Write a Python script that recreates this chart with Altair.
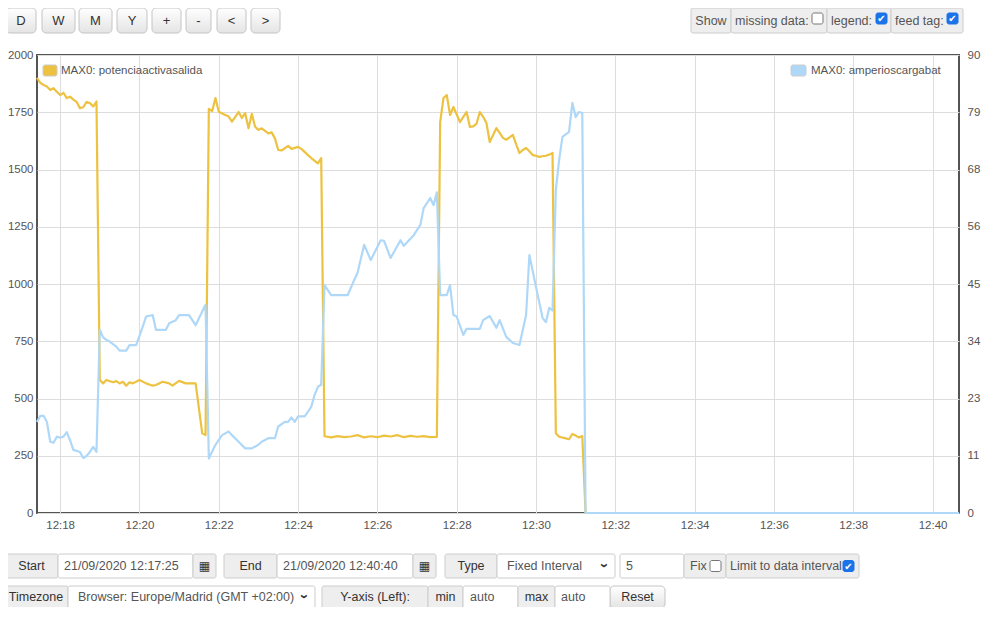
import altair as alt
import pandas as pd

# ------------------------------------------------------------------ data
power_times = [
    "12:17:25", "12:17:30", "12:17:35", "12:17:40", "12:17:45", "12:17:50", "12:17:55",
    "12:18:00", "12:18:05", "12:18:10", "12:18:15", "12:18:20", "12:18:25", "12:18:30",
    "12:18:35", "12:18:40", "12:18:45", "12:18:50", "12:18:55",
    "12:19:00", "12:19:05", "12:19:10", "12:19:20", "12:19:25", "12:19:30", "12:19:35",
    "12:19:40", "12:19:45", "12:19:50", "12:20:00", "12:20:10", "12:20:20", "12:20:25",
    "12:20:35", "12:20:45", "12:20:50", "12:21:00", "12:21:10", "12:21:25", "12:21:35",
    "12:21:40",
    "12:21:45", "12:21:50", "12:21:55", "12:22:00", "12:22:10", "12:22:15", "12:22:20",
    "12:22:25", "12:22:30", "12:22:35", "12:22:40", "12:22:45", "12:22:50", "12:22:55",
    "12:23:00", "12:23:05", "12:23:15", "12:23:20", "12:23:25", "12:23:30", "12:23:35",
    "12:23:45", "12:23:50", "12:24:00", "12:24:05", "12:24:15", "12:24:20", "12:24:30",
    "12:24:35",
    "12:24:40", "12:24:50", "12:25:00", "12:25:10", "12:25:20", "12:25:30", "12:25:40",
    "12:25:50", "12:26:00", "12:26:10", "12:26:20", "12:26:30", "12:26:40", "12:26:50",
    "12:27:00", "12:27:10", "12:27:20", "12:27:30",
    "12:27:35", "12:27:40", "12:27:45", "12:27:50", "12:27:55", "12:28:00", "12:28:05",
    "12:28:10", "12:28:15", "12:28:20", "12:28:25", "12:28:30", "12:28:35", "12:28:40",
    "12:28:45", "12:28:50", "12:28:55", "12:29:00", "12:29:05", "12:29:10", "12:29:15",
    "12:29:20", "12:29:25", "12:29:30", "12:29:35", "12:29:40", "12:29:45", "12:29:50",
    "12:29:55", "12:30:00", "12:30:05", "12:30:10", "12:30:15", "12:30:20", "12:30:25",
    "12:30:30", "12:30:35", "12:30:45", "12:30:50", "12:30:55", "12:31:00", "12:31:05",
    "12:31:10", "12:31:15", "12:40:40",
]
power_values = [
    1900, 1878, 1869, 1862, 1847, 1855, 1840,
    1825, 1835, 1812, 1818, 1805, 1795, 1768,
    1772, 1795, 1790, 1775, 1797,
    581, 566, 581, 571, 576, 566, 573,
    556, 571, 566, 581, 566, 556, 559,
    573, 566, 556, 577, 566, 566, 348,
    341,
    1765, 1755, 1812, 1752, 1738, 1731, 1709,
    1730, 1751, 1725, 1746, 1680, 1743, 1687,
    1673, 1680, 1658, 1662, 1636, 1585, 1583,
    1603, 1590, 1599, 1590, 1563, 1550, 1527,
    1550,
    335, 330, 336, 331, 334, 340, 330,
    335, 331, 338, 334, 340, 331, 337,
    333, 336, 331, 332,
    1707, 1812, 1825, 1738, 1773, 1740, 1707,
    1730, 1751, 1686, 1688, 1700, 1751, 1730,
    1703, 1620, 1650, 1681, 1660, 1638, 1630,
    1640, 1651, 1610, 1572, 1585, 1594, 1580,
    1563, 1560, 1555, 1558, 1560, 1565, 1572,
    348, 333, 326, 322, 345, 338, 330,
    336, 0, 0,
]

amps_times = [
    "12:17:25", "12:17:30", "12:17:35", "12:17:40", "12:17:45", "12:17:50", "12:17:55",
    "12:18:00", "12:18:05", "12:18:10", "12:18:15", "12:18:20", "12:18:25", "12:18:30",
    "12:18:35", "12:18:40", "12:18:45", "12:18:50", "12:18:55",
    "12:19:00", "12:19:05", "12:19:10", "12:19:15", "12:19:25", "12:19:30", "12:19:40",
    "12:19:45", "12:19:55", "12:20:05", "12:20:10", "12:20:20", "12:20:25", "12:20:40",
    "12:20:45", "12:20:55", "12:21:00", "12:21:15", "12:21:25", "12:21:35", "12:21:40",
    "12:21:45", "12:21:55", "12:22:05", "12:22:15", "12:22:20", "12:22:30", "12:22:40",
    "12:22:50", "12:23:00", "12:23:05", "12:23:15", "12:23:25", "12:23:30", "12:23:40",
    "12:23:45", "12:23:50", "12:23:55", "12:24:00", "12:24:10", "12:24:15", "12:24:20",
    "12:24:25", "12:24:30", "12:24:35",
    "12:24:40", "12:24:50", "12:25:15", "12:25:25", "12:25:30", "12:25:40", "12:25:50",
    "12:26:05", "12:26:10", "12:26:20", "12:26:35", "12:26:40", "12:26:55", "12:27:05",
    "12:27:10", "12:27:20", "12:27:25", "12:27:30",
    "12:27:35", "12:27:45", "12:27:50", "12:27:55", "12:28:00", "12:28:10", "12:28:15",
    "12:28:35", "12:28:40", "12:28:50", "12:29:00", "12:29:05", "12:29:15", "12:29:25",
    "12:29:35", "12:29:45", "12:29:50", "12:30:00", "12:30:10", "12:30:15", "12:30:20",
    "12:30:25",
    "12:30:30", "12:30:35", "12:30:40", "12:30:50", "12:30:55", "12:31:00", "12:31:05",
    "12:31:10", "12:31:15", "12:40:40",
]
amps_values = [
    17.9, 19.1, 19.1, 17.9, 14.0, 13.8, 15.0,
    14.8, 15.0, 15.9, 14.3, 12.4, 12.2, 12.0,
    10.8, 11.2, 12.0, 13.0, 12.0,
    36.0, 34.5, 34.0, 33.7, 32.7, 31.9, 31.9,
    33.0, 33.0, 36.6, 38.6, 38.9, 36.0, 36.0,
    37.3, 37.9, 38.9, 38.9, 36.9, 39.6, 40.9,
    10.7, 13.4, 15.3, 16.0, 15.3, 14.0, 12.7,
    12.7, 13.4, 14.0, 14.7, 14.7, 17.0, 17.9,
    17.9, 18.8, 17.9, 19.0, 19.0, 19.9, 20.9,
    23.2, 24.8, 25.2,
    44.8, 42.8, 42.8, 45.8, 47.2, 52.7, 49.7,
    53.6, 53.5, 50.1, 53.6, 52.5, 54.6, 56.6,
    59.9, 61.9, 60.5, 63.0,
    42.8, 42.8, 44.8, 38.9, 38.6, 35.0, 36.2,
    36.2, 37.9, 38.7, 36.4, 37.9, 34.6, 33.4,
    33.0, 38.9, 50.7, 44.4, 38.3, 37.5, 40.3,
    39.8,
    63.5, 69.4, 73.9, 74.9, 80.6, 77.8, 78.8,
    78.6, 0, 0,
]

series_labels = ["MAX0: potenciaactivasalida", "MAX0: amperioscargabat"]
series_colors = ["#edc240", "#afd8f8"]

x_start, x_end = "12:17:25", "12:40:40"
x_tick_minutes = [18, 20, 22, 24, 26, 28, 30, 32, 34, 36, 38, 40]
left_ticks = [0, 250, 500, 750, 1000, 1250, 1500, 1750, 2000]
right_ticks = [0, 11.25, 22.5, 33.75, 45, 56.25, 67.5, 78.75, 90]

top_buttons = ["D", "W", "M", "Y", "+", "-", "<", ">"]
show_labels = ["Show", "missing data:", "legend:", "feed tag:"]
start_text, end_text = "21/09/2020 12:17:25", "21/09/2020 12:40:40"
type_text, interval_text = "Fixed Interval", "5"
timezone_text = "Browser: Europe/Madrid (GMT +02:00)"


def to_min(s):
    h, m, sec = (int(p) for p in s.split(":"))
    return (h - 12) * 60 + m + sec / 60.0


power_df = pd.DataFrame({"t": [to_min(s) for s in power_times], "v": power_values})
amps_df = pd.DataFrame({"t": [to_min(s) for s in amps_times], "a": amps_values})

# ------------------------------------------------------------------ layout
W, H = 922, 458
PAD = {"left": 29, "top": 47, "right": 33, "bottom": 94}
OX, OY = 8 + PAD["left"], 8 + PAD["top"]  # page position of plot origin
FONT = "Liberation Sans"
AX_COLOR = "#545454"
GRID = "#dddddd"

x_scale = alt.Scale(domain=[to_min(x_start), to_min(x_end)], nice=False, zero=False)
x_axis = alt.Axis(
    values=x_tick_minutes,
    labelExpr="'12:' + (datum.value < 10 ? '0' : '') + datum.value",
    grid=True, gridColor=GRID, ticks=False, tickSize=0, domain=False,
    labelPadding=6, labelFont=FONT, labelFontSize=11.5, labelColor=AX_COLOR, title=None,
)

power = alt.Chart(power_df).mark_line(
    color=series_colors[0], strokeWidth=2.2, strokeJoin="round"
).encode(
    x=alt.X("t:Q", scale=x_scale, axis=x_axis),
    y=alt.Y(
        "v:Q",
        scale=alt.Scale(domain=[0, 2000], nice=False),
        axis=alt.Axis(
            orient="left", values=left_ticks, format="d", grid=True, gridColor=GRID,
            ticks=False, tickSize=0, domain=False, labelPadding=4, labelFont=FONT,
            labelFontSize=11.5, labelColor=AX_COLOR, title=None,
        ),
    ),
)

amps = alt.Chart(amps_df).mark_line(
    color=series_colors[1], strokeWidth=2.2, strokeJoin="round"
).encode(
    x=alt.X("t:Q", scale=x_scale, axis=x_axis),
    y=alt.Y(
        "a:Q",
        scale=alt.Scale(domain=[0, 90], nice=False),
        axis=alt.Axis(
            orient="right", values=right_ticks, format="d", grid=False,
            ticks=False, tickSize=0, domain=False, labelPadding=8, labelFont=FONT,
            labelFontSize=11.5, labelColor=AX_COLOR, title=None,
        ),
    ),
)

# ------------------------------------------------------------------ UI chrome (page px)
R1 = (554, 578)   # first control row (top, bottom)
R2 = (586, 608)   # second control row
btn_spans = [(6, 36), (42, 75), (79, 112), (117, 147), (152, 181), (186, 211), (217, 246), (251, 280)]
buttons = [(x0, x1, 8, 33) for x0, x1 in btn_spans] + [(610, 665) + R2]

EEE, WHITE = "#eeeeee", "#ffffff"
boxes = [
    (691, 731, 8, 33, EEE), (731, 827, 8, 33, EEE), (827, 891, 8, 33, EEE), (891, 963, 8, 33, EEE),
    (4, 58) + R1 + (EEE,), (58, 193) + R1 + (WHITE,), (193, 216) + R1 + (EEE,),
    (224, 277) + R1 + (EEE,), (277, 413) + R1 + (WHITE,), (413, 436) + R1 + (EEE,),
    (445, 497) + R1 + (EEE,), (497, 615) + R1 + (WHITE,),
    (620, 684) + R1 + (WHITE,), (684, 726) + R1 + (EEE,), (726, 859) + R1 + (EEE,),
    (4, 68) + R2 + (EEE,), (68, 315) + R2 + (WHITE,), (322, 428) + R2 + (EEE,),
    (428, 463) + R2 + (EEE,), (463, 518) + R2 + (WHITE,), (518, 555) + R2 + (EEE,),
    (555, 610) + R2 + (WHITE,),
    (43, 57, 65, 76, series_colors[0]), (791, 806, 65, 76, series_colors[1]),
]
y1c = (R1[0] + R1[1]) / 2
y2c = (R2[0] + R2[1]) / 2
checks = [  # x0, x1, y0, y1, checked
    (812, 823, 13, 24, False), (876, 887, 13, 24, True), (947, 958, 13, 24, True),
    (710, 721, y1c - 5.5, y1c + 5.5, False), (843, 854, y1c - 5.5, y1c + 5.5, True),
]

TXT, TXT2 = "#333333", "#555555"
btn_centers = [(a + b) / 2 for a, b in btn_spans]
center_texts = [(c, 20.5, lab, 13, TXT) for c, lab in zip(btn_centers, top_buttons)] + [
    (711, 20.5, show_labels[0], 12.5, TXT2),
    (31.5, y1c, "Start", 12.5, TXT), (250.5, y1c, "End", 12.5, TXT), (471, y1c, "Type", 12.5, TXT),
    (36, y2c, "Timezone", 12.5, TXT), (375, y2c, "Y-axis (Left):", 12.5, TXT),
    (445.5, y2c, "min", 12.5, TXT), (536.5, y2c, "max", 12.5, TXT),
    (637.5, y2c, "Reset", 12.5, TXT),
]
left_texts = [
    (735, 20.5, show_labels[1], 12.5, TXT2), (831, 20.5, show_labels[2], 12.5, TXT2),
    (895, 20.5, show_labels[3], 12.5, TXT2),
    (64, y1c, start_text, 12.5, TXT2), (283, y1c, end_text, 12.5, TXT2),
    (507, y1c, type_text, 12.5, TXT2), (626, y1c, interval_text, 12.5, TXT2),
    (690, y1c, "Fix", 12.5, TXT2), (730, y1c, "Limit to data interval", 12.5, TXT2),
    (78, y2c, timezone_text, 12.5, TXT2), (470, y2c, "auto", 12.5, TXT2),
    (561, y2c, "auto", 12.5, TXT2),
    (61, 71, series_labels[0], 11.5, AX_COLOR), (811, 71, series_labels[1], 11.5, AX_COLOR),
]
icons = [(204.5, y1c, "▦"), (424.5, y1c, "▦")]
chevrons = [(605, y1c - 0.5), (305, y2c - 0.5)]


def px(x, y):
    return x - OX, y - OY


def rect_df(rows, with_fill=False):
    recs = []
    for r in rows:
        x0, y0 = px(r[0], r[2])
        x1, y1 = px(r[1], r[3])
        d = {"x": x0, "x2": x1, "y": y0, "y2": y1}
        if with_fill:
            d["fill"] = r[4]
        recs.append(d)
    return pd.DataFrame(recs)


def text_df(rows):
    recs = []
    for x, y, t, s, c in rows:
        a, b = px(x, y)
        recs.append({"x": a, "y": b, "text": t, "size": s, "color": c})
    return pd.DataFrame(recs)


def pos_enc(rect=False):
    enc = {
        "x": alt.X("x:Q", scale=None, axis=None),
        "y": alt.Y("y:Q", scale=None, axis=None),
    }
    if rect:
        enc["x2"] = alt.X2("x2:Q")
        enc["y2"] = alt.Y2("y2:Q")
    return enc


grad = alt.Gradient(
    gradient="linear",
    stops=[alt.GradientStop(color="#ffffff", offset=0), alt.GradientStop(color="#e4e4e4", offset=1)],
    x1=0, x2=0, y1=0, y2=1,
)

button_layer = alt.Chart(rect_df(buttons)).mark_rect(
    fill=grad, stroke="#c4c4c4", strokeWidth=1, cornerRadius=4
).encode(**pos_enc(True))

box_layer = alt.Chart(rect_df(boxes, True)).mark_rect(
    stroke="#cccccc", strokeWidth=1, cornerRadius=2
).encode(**pos_enc(True), fill=alt.Fill("fill:N", scale=None))

chk_rows = [(c[0], c[1], c[2], c[3], "#1a73e8" if c[4] else "#ffffff") for c in checks]
chk_df = rect_df(chk_rows, True)
chk_df["stroke"] = ["#1a73e8" if c[4] else "#767676" for c in checks]
check_layer = alt.Chart(chk_df).mark_rect(strokeWidth=1, cornerRadius=2).encode(
    **pos_enc(True), fill=alt.Fill("fill:N", scale=None), stroke=alt.Stroke("stroke:N", scale=None)
)
tick_df = pd.DataFrame(
    [dict(zip(("x", "y"), px((c[0] + c[1]) / 2, (c[2] + c[3]) / 2 + 0.5))) for c in checks if c[4]]
)
tick_layer = alt.Chart(tick_df).mark_text(
    text="✔", font="DejaVu Sans", fontSize=10, color="white", align="center", baseline="middle"
).encode(**pos_enc())

center_layer = alt.Chart(text_df(center_texts)).mark_text(
    font=FONT, align="center", baseline="middle"
).encode(**pos_enc(), text="text:N", size=alt.Size("size:Q", scale=None),
         color=alt.Color("color:N", scale=None))
left_layer = alt.Chart(text_df(left_texts)).mark_text(
    font=FONT, align="left", baseline="middle"
).encode(**pos_enc(), text="text:N", size=alt.Size("size:Q", scale=None),
         color=alt.Color("color:N", scale=None))
icon_layer = alt.Chart(text_df([(x, y, t, 12, TXT) for x, y, t in icons])).mark_text(
    font="DejaVu Sans", align="center", baseline="middle", color=TXT, fontSize=12
).encode(**pos_enc(), text="text:N")
chev_layer = alt.Chart(text_df([(x, y, "›", 15, TXT) for x, y in chevrons])).mark_text(
    font=FONT, align="center", baseline="middle", color=TXT, fontSize=15, fontWeight="bold", angle=90
).encode(**pos_enc(), text="text:N")

chart = alt.layer(
    power, amps, button_layer, box_layer, check_layer, tick_layer,
    center_layer, left_layer, icon_layer, chev_layer,
).resolve_scale(y="independent").properties(
    width=W, height=H,
    autosize=alt.AutoSizeParams(type="none"),
    padding=PAD,
    background="white",
).configure_view(stroke=AX_COLOR, strokeWidth=2)

chart.save("out.html", embed_options={"renderer": "svg", "actions": False})
